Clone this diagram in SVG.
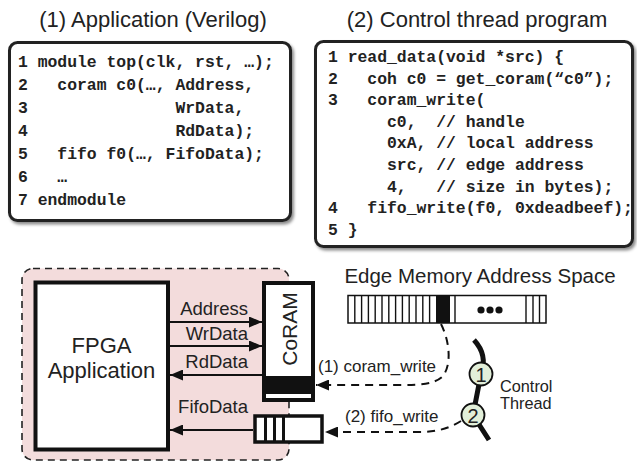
<svg xmlns="http://www.w3.org/2000/svg" width="637" height="462" viewBox="0 0 637 462">
<style>
.title{font-family:"Liberation Sans",Arial,sans-serif;font-size:22px;fill:#222}
.code{font-family:"Liberation Mono","Courier New",monospace;font-size:16.4px;font-weight:bold;fill:#222;white-space:pre}
.lbl{font-family:"Liberation Sans",Arial,sans-serif;font-size:18.5px;fill:#222}
.sm{font-family:"Liberation Sans",Arial,sans-serif;font-size:17px;fill:#222}
.codebox{fill:#fff;stroke:#222;stroke-width:3}
.thin{stroke:#111;stroke-width:1.4}
.arrow{stroke:#111;stroke-width:2;fill:none}
.dash{stroke:#111;stroke-width:2;fill:none;stroke-dasharray:8 6}
.num{fill:#e2efd9;stroke:#111;stroke-width:1.8}
</style>
<defs>
<filter id="sh" x="-5%" y="-5%" width="115%" height="115%">
<feDropShadow dx="2" dy="2.5" stdDeviation="1.5" flood-color="#000" flood-opacity="0.45"/>
</filter>
<marker id="ah" markerUnits="userSpaceOnUse" markerWidth="13" markerHeight="11" refX="13" refY="5.5" orient="auto">
<path d="M0,0 L13,5.5 L0,11 z" fill="#111"/>
</marker>
</defs>

<text class="title" x="153" y="27" text-anchor="middle">(1) Application (Verilog)</text>
<text class="title" x="477" y="27" text-anchor="middle">(2) Control thread program</text>

<g id="verilog">
<rect class="codebox" x="9.5" y="42.5" width="281" height="178" rx="8" filter="url(#sh)"/>
<text class="code" x="18" y="67">1 module top(clk, rst, …);</text>
<text class="code" x="18" y="90">2   coram c0(…, Address,</text>
<text class="code" x="18" y="113">3               WrData,</text>
<text class="code" x="18" y="136">4               RdData);</text>
<text class="code" x="18" y="159">5   fifo f0(…, FifoData);</text>
<text class="code" x="18" y="182">6   …</text>
<text class="code" x="18" y="205">7 endmodule</text>
</g>

<g id="ctrl-program">
<rect class="codebox" x="315.5" y="41.5" width="317" height="205" rx="8" filter="url(#sh)"/>
<text class="code" x="328" y="62">1 read_data(void *src) {</text>
<text class="code" x="328" y="83.6">2   coh c0 = get_coram(“c0”);</text>
<text class="code" x="328" y="105.2">3   coram_write(</text>
<text class="code" x="328" y="126.8">      c0,  // handle</text>
<text class="code" x="328" y="148.4">      0xA, // local address</text>
<text class="code" x="328" y="170">      src, // edge address</text>
<text class="code" x="328" y="191.6">      4,   // size in bytes);</text>
<text class="code" x="328" y="213.2">4   fifo_write(f0, 0xdeadbeef);</text>
<text class="code" x="328" y="234.8">5 }</text>
</g>

<g id="fpga-region">
<rect x="22" y="268.5" width="267" height="191.5" rx="11" fill="#f3dcdc" stroke="#222" stroke-width="1.6" stroke-dasharray="7 5"/>
</g>

<g id="fpga-app">
<rect x="35.5" y="282.5" width="132.5" height="167" fill="#fff" stroke="#111" stroke-width="4"/>
<text class="title" x="101.5" y="353" text-anchor="middle">FPGA</text>
<text class="title" x="101.5" y="378" text-anchor="middle">Application</text>
</g>

<g id="coram">
<rect x="264" y="283" width="49" height="117" fill="#fff" stroke="#111" stroke-width="4"/>
<rect x="264" y="376" width="49" height="18" fill="#111"/>
<text class="title" transform="translate(297 329) rotate(-90)" text-anchor="middle" style="font-size:21px">CoRAM</text>
</g>

<g id="fifo">
<rect x="255" y="416" width="67" height="26" fill="#fff" stroke="#111" stroke-width="3.5"/>
<rect x="264" y="416" width="3" height="26" fill="#111"/>
<rect x="273" y="416" width="3" height="26" fill="#111"/>
<rect x="282" y="416" width="3" height="26" fill="#111"/>
</g>

<g id="edge-memory">
<text class="title" x="480" y="283" text-anchor="middle" style="font-size:20.5px">Edge Memory Address Space</text>
<rect x="348" y="295.5" width="198" height="27.5" fill="#fff" stroke="#111" stroke-width="1.5"/>
<g class="thin">
<line x1="354.8" y1="295.5" x2="354.8" y2="323"/>
<line x1="361.6" y1="295.5" x2="361.6" y2="323"/>
<line x1="368.4" y1="295.5" x2="368.4" y2="323"/>
<line x1="375.2" y1="295.5" x2="375.2" y2="323"/>
<line x1="382" y1="295.5" x2="382" y2="323"/>
<line x1="388.8" y1="295.5" x2="388.8" y2="323"/>
<line x1="395.6" y1="295.5" x2="395.6" y2="323"/>
<line x1="402.4" y1="295.5" x2="402.4" y2="323"/>
<line x1="409.2" y1="295.5" x2="409.2" y2="323"/>
<line x1="416" y1="295.5" x2="416" y2="323"/>
<line x1="422.8" y1="295.5" x2="422.8" y2="323"/>
<line x1="429.6" y1="295.5" x2="429.6" y2="323"/>
<line x1="455" y1="295.5" x2="455" y2="323"/>
<line x1="526" y1="295.5" x2="526" y2="323"/>
<line x1="533" y1="295.5" x2="533" y2="323"/>
<line x1="539.5" y1="295.5" x2="539.5" y2="323"/>
</g>
<rect x="436" y="295.5" width="14" height="27.5" fill="#111"/>
<circle cx="481" cy="310" r="3.6" fill="#111"/>
<circle cx="490" cy="310" r="3.6" fill="#111"/>
<circle cx="499" cy="310" r="3.6" fill="#111"/>
</g>

<g id="control-thread">
<path d="M474 340 Q488 355 481 374 L473 415 L489 440" fill="none" stroke="#111" stroke-width="5"/>
<circle class="num" cx="481" cy="374" r="11.5"/>
<circle class="num" cx="473" cy="415" r="11.5"/>
<text class="title" x="481" y="381.5" text-anchor="middle" style="font-size:20px">1</text>
<text class="title" x="473" y="422.5" text-anchor="middle" style="font-size:20px">2</text>
<text class="title" x="500" y="392" style="font-size:16.3px">Control</text>
<text class="title" x="500" y="409" style="font-size:16.3px">Thread</text>
</g>

<g id="connectors">
<line class="arrow" x1="170" y1="322" x2="262" y2="322" marker-end="url(#ah)"/>
<line class="arrow" x1="170" y1="346" x2="262" y2="346" marker-end="url(#ah)"/>
<line class="arrow" x1="262" y1="375" x2="170" y2="375" marker-end="url(#ah)"/>
<line class="arrow" x1="253" y1="430" x2="170" y2="430" marker-end="url(#ah)"/>
<path class="dash" d="M441 324 C450 342 452 366 442 377 C434 384 420 385 400 385 L316 385" marker-end="url(#ah)"/>
<path class="dash" d="M461 421 C450 428 437 432 420 432 L325 432" marker-end="url(#ah)"/>
<text class="lbl" x="248" y="315" text-anchor="end">Address</text>
<text class="lbl" x="248" y="340" text-anchor="end">WrData</text>
<text class="lbl" x="248" y="368" text-anchor="end">RdData</text>
<text class="lbl" x="248" y="413" text-anchor="end">FifoData</text>
<text class="sm" x="318" y="372">(1) coram_write</text>
<text class="sm" x="345" y="422">(2) fifo_write</text>
</g>
</svg>
